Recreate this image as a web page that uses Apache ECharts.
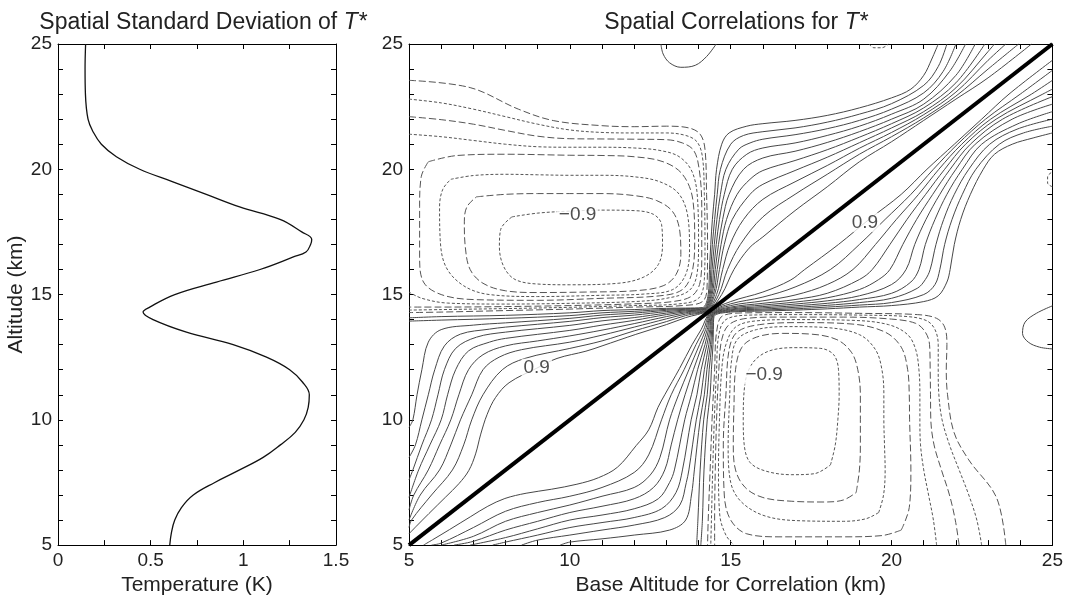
<!DOCTYPE html>
<html>
<head>
<meta charset="utf-8">
<script src="https://cdn.jsdelivr.net/npm/echarts@6/dist/echarts.min.js"></script>
<style>
  html, body { margin: 0; padding: 0; background: #fff; }
  #chart { width: 1066px; height: 601px; }
</style>
</head>
<body>
<div id="chart"></div>
<script>
// left panel: spatial standard deviation profile
const altKm = [5, 5.5, 6, 6.5, 7, 7.5, 8, 8.5, 9, 9.5, 10, 10.5, 11, 11.5, 12, 12.5, 13, 13.5, 14, 14.3, 14.5, 15, 15.5, 16, 16.5, 16.7, 17, 17.2, 17.5, 18, 18.5, 19, 19.5, 20, 20.5, 21, 21.5, 22, 23, 24, 25];
const tempK = [0.603, 0.612, 0.63, 0.666, 0.73, 0.846, 0.98, 1.107, 1.2, 1.28, 1.327, 1.35, 1.356, 1.32, 1.25, 1.125, 0.945, 0.693, 0.513, 0.459, 0.495, 0.63, 0.855, 1.09, 1.27, 1.338, 1.363, 1.369, 1.315, 1.198, 0.98, 0.80, 0.62, 0.441, 0.315, 0.234, 0.189, 0.162, 0.148, 0.146, 0.149];

// right panel: correlation matrix is symmetric, contours read above the diagonal
// positive contours (0.0 .. 0.9), from the left edge through the neck to the top edge
const solidAbove = [
  [[5,14.07],[6,14.12],[8,14.17],[10,14.27],[11,14.36],[12,14.4],[13,14.45],[13.6,14.46],[14.12,14.48],[14.3,15],[14.34,16],[14.38,17],[14.43,18],[14.5,19],[14.56,20],[14.72,21],[14.95,21.45],[15.5,21.72],[16,21.82],[17,21.95],[18,22.15],[19,22.45],[20,22.85],[20.6,23.2],[21,23.75],[21.25,24.4],[21.45,25]],
  [[5,13.94],[6,13.98],[8,14.05],[10,14.16],[11,14.27],[12,14.33],[13,14.41],[13.6,14.44],[14.15,14.46],[14.33,15],[14.38,16],[14.43,17],[14.5,18],[14.58,19],[14.68,20],[15,21],[15.4,21.35],[16,21.5],[17,21.65],[18,21.88],[19,22.2],[20,22.62],[21,23.35],[21.45,24.1],[21.72,25]],
  [[5,9.7],[5.12,10],[5.25,11],[5.4,12],[5.6,13.1],[6,13.6],[7,13.78],[8,13.87],[10,14.05],[11,14.18],[12,14.26],[13,14.37],[13.6,14.41],[14.17,14.44],[14.36,15],[14.42,16],[14.49,17],[14.57,18],[14.68,19],[14.85,20],[15.25,20.8],[15.6,21.05],[16,21.2],[17,21.38],[18,21.62],[19,21.95],[20,22.4],[21,23.05],[21.6,23.9],[22,25]],
  [[5,8.5],[5.2,9],[5.4,10],[5.6,11],[5.8,12],[6.1,12.95],[6.6,13.42],[7.5,13.62],[8,13.7],[10,13.93],[11,14.08],[12,14.18],[13,14.32],[13.6,14.38],[14.19,14.43],[14.39,15],[14.47,16],[14.55,17],[14.65,18],[14.8,19],[15.05,20],[15.5,20.6],[16,20.85],[17,21.05],[18,21.35],[19,21.72],[20,22.2],[21,22.8],[21.8,23.9],[22.3,25]],
  [[5,7.6],[5.12,8],[5.4,9],[5.7,10],[5.9,11],[6.1,12],[6.45,12.85],[7.1,13.3],[8,13.5],[10,13.77],[11,13.95],[12,14.08],[13,14.26],[13.6,14.35],[14.21,14.42],[14.42,15],[14.52,16],[14.62,17],[14.75,18],[14.95,19],[15.4,20],[16,20.45],[17,20.72],[18,21.07],[19,21.5],[20,22],[21,22.6],[22,23.75],[22.6,25]],
  [[5,6.9],[5.3,8],[5.65,9],[6,10],[6.2,11],[6.45,12],[6.85,12.75],[7.5,13.1],[8,13.25],[10,13.57],[11,13.78],[12,13.97],[13,14.2],[13.6,14.31],[14.23,14.41],[14.46,15],[14.58,16],[14.7,17],[14.87,18],[15.2,19],[15.6,19.6],[16,19.95],[17,20.35],[18,20.78],[19,21.28],[20,21.82],[21,22.45],[22,23.45],[22.9,25]],
  [[5,6.4],[5.15,7],[5.6,8],[5.95,9],[6.3,10],[6.55,11],[6.85,12],[7.3,12.6],[8,12.95],[9,13.15],[10,13.35],[11,13.58],[12,13.84],[13,14.12],[13.6,14.27],[14.25,14.4],[14.5,15],[14.65,16],[14.8,17],[15.05,18],[15.6,19],[16,19.4],[17,19.95],[18,20.48],[19,21.06],[20,21.65],[21,22.3],[22,23.25],[23,24.7],[23.2,25]],
  [[5,6],[5.35,7],[5.95,8],[6.3,9],[6.6,10],[6.95,11],[7.3,12],[7.8,12.5],[8.5,12.8],[10,13.1],[11,13.38],[12,13.7],[13,14.03],[13.6,14.22],[14.27,14.39],[14.56,15],[14.75,16],[14.98,17],[15.4,18],[16,18.8],[17,19.5],[18,20.15],[19,20.84],[20,21.47],[21,22.18],[22,23.08],[23,24.35],[23.55,25]],
  [[5,5.7],[5.08,6],[5.7,7],[6.35,8],[6.7,9],[6.95,10],[7.3,11],[7.9,12],[8.6,12.45],[10,12.85],[11,13.15],[12,13.55],[13,13.92],[13.6,14.16],[14.29,14.38],[14.63,15],[14.9,16],[15.3,17],[16,18.1],[17,19],[18,19.8],[19,20.6],[20,21.3],[21,22.05],[22,22.92],[23,24],[23.95,25]],
  [[5,5.45],[5.21,5.73],[5.62,6.26],[6.14,6.92],[6.55,7.45],[6.86,7.98],[7.07,8.64],[7.23,9.43],[7.43,10.22],[7.69,10.89],[8.11,11.48],[8.97,12.06],[9.6,12.45],[10.5,12.74],[11,12.95],[12.05,13.41],[13,13.8],[13.6,14.08],[14.31,14.37],[14.72,15],[15.1,16],[15.57,16.85],[16,17.3],[17,18.35],[18,19.3],[19,20.3],[20,21.1],[21,21.95],[22,22.8],[23,23.65],[24.35,25]]
];

// negative contours (upper-left box), outer to inner (-0.9 last)
const dashedAbove = [
  [[5,23.55],[6.9,23.26],[8.4,22.4],[9.5,21.94],[11,21.74],[12,21.7],[13,21.72],[13.7,21.65],[14.05,21.4],[14.2,20.8],[14.25,19],[14.28,17],[14.27,15.5],[14.15,14.75],[13.5,14.56],[12,14.5],[10,14.42],[8,14.36],[6,14.3],[5,14.28]],
  [[5,22.8],[6,22.65],[7,22.4],[8,22.1],[9,21.8],[10,21.57],[11,21.47],[12,21.45],[13,21.45],[13.6,21.35],[13.95,21.1],[14.12,20.5],[14.18,19],[14.2,17],[14.18,15.6],[14,14.85],[13.4,14.63],[12,14.56],[10,14.49],[8,14.44],[6,14.4],[5,14.38]],
  [[5,22.1],[6,21.98],[7,21.8],[8,21.55],[9,21.32],[10,21.22],[11,21.21],[12,21.2],[13,21.18],[13.5,21.05],[13.85,20.75],[14.02,20],[14.1,18.5],[14.1,16.5],[14.05,15.5],[13.8,14.95],[13.2,14.72],[12,14.63],[10,14.56],[8,14.52],[6,14.5],[5,14.5]],
  [[5,21.4],[6,21.3],[7,21.15],[8,21],[9,20.9],[10,20.88],[11,20.88],[12,20.85],[12.8,20.75],[13.4,20.5],[13.8,19.9],[13.97,18.8],[14,17],[13.95,15.8],[13.7,15.15],[13,14.85],[12,14.72],[10,14.65],[8,14.62],[6.2,14.66],[5.4,14.85],[5,15.1]],
  [[5.6,20.3],[6.5,20.55],[8,20.6],[10,20.56],[11,20.55],[12,20.5],[12.9,20.3],[13.5,19.8],[13.82,18.8],[13.88,17.2],[13.8,15.9],[13.5,15.2],[12.8,14.95],[11,14.85],[9,14.77],[7,14.8],[6,15],[5.45,15.5],[5.33,16.5],[5.33,18.5],[5.38,19.7],[5.6,20.3]],
  [[6.3,19.6],[7,19.75],[8,19.8],[9,19.78],[10,19.76],[11,19.76],[12,19.7],[12.8,19.5],[13.4,19],[13.68,18],[13.72,16.8],[13.6,15.8],[13.2,15.2],[12.3,15.02],[11,14.97],[9,14.92],[7.5,15],[6.7,15.35],[6.15,16.1],[5.97,17.2],[5.95,18.5],[6.05,19.2],[6.3,19.6]],
  [[7.1,18.9],[8,19],[9,19.03],[10,19.03],[11,19.03],[12,18.95],[12.7,18.75],[13.2,18.3],[13.42,17.5],[13.45,16.6],[13.3,15.8],[12.9,15.35],[12,15.15],[10.5,15.1],[9,15.08],[8,15.15],[7.3,15.45],[6.9,16],[6.75,16.9],[6.72,17.9],[6.8,18.5],[7.1,18.9]],
  [[8.2,18.1],[9,18.25],[10,18.33],[11,18.37],[12,18.35],[12.6,18.2],[12.85,17.8],[12.88,17],[12.75,16.2],[12.3,15.7],[11.5,15.45],[10,15.39],[9,15.42],[8.3,15.6],[7.95,16.1],[7.81,16.9],[7.85,17.6],[8.2,18.1]]
];

// small features near the edges
const solidLoopAbove = [[12.83,25],[12.9,24.6],[13.1,24.25],[13.45,24.07],[13.9,24.15],[14.25,24.5],[14.55,25]];
const dashedArcAbove = [[19.3,25],[19.45,24.85],[19.7,24.85],[19.9,25]];

const diagonal = [[5, 5], [25, 25]];

const contourLabels = [
  { x: 8.97, y: 12.06, text: '0.9' },
  { x: 19.17, y: 17.88, text: '0.9' },
  { x: 10.24, y: 18.17, text: '\u22120.9' },
  { x: 16.04, y: 11.79, text: '\u22120.9' }
];

const FONT = 'Liberation Sans, Arial, Helvetica, sans-serif';
const mirror = pts => pts.map(p => [p[1], p[0]]);

const chart = echarts.init(document.getElementById('chart'));

function axisBase(gridIndex, position, min, max, interval, labels, fmt) {
  return {
    type: 'value', gridIndex: gridIndex, position: position,
    min: min, max: max, interval: interval,
    axisLine: { show: true, onZero: false, lineStyle: { color: '#000', width: 1 } },
    axisTick: { show: true, inside: true, length: 5, lineStyle: { color: '#000' } },
    axisLabel: { show: labels, formatter: fmt, color: '#222', fontSize: 19, fontFamily: FONT, margin: 6 },
    splitLine: { show: false }
  };
}
const every5 = v => (v % 5 === 0 ? String(v) : '');
const everyHalf = v => ((v * 2) % 1 === 0 ? String(v) : '');

const series = [];
series.push({
  type: 'line', xAxisIndex: 0, yAxisIndex: 0,
  data: tempK.map((t, i) => [t, altKm[i]]),
  smooth: 0.4, symbol: 'none',
  lineStyle: { color: '#111', width: 1.3 }
});

function addContour(pts, dashed, dashIdx) {
  series.push({
    type: 'line', xAxisIndex: 2, yAxisIndex: 2,
    data: pts, smooth: 0.35, symbol: 'none', silent: true,
    lineStyle: {
      color: dashed ? '#555' : '#474747', width: 1,
      type: dashed ? (dashIdx % 2 === 0 ? [7, 3] : [3, 2]) : 'solid'
    }
  });
}
solidAbove.forEach(pts => { addContour(pts, false); addContour(mirror(pts), false); });
dashedAbove.forEach((pts, k) => { addContour(pts, true, k); addContour(mirror(pts), true, k); });
addContour(solidLoopAbove, false); addContour(mirror(solidLoopAbove), false);
addContour(dashedArcAbove, true, 1); addContour(mirror(dashedArcAbove), true, 1);

series.push({
  type: 'line', xAxisIndex: 2, yAxisIndex: 2, data: diagonal,
  symbol: 'none', lineStyle: { color: '#000', width: 4 }, z: 5
});
series.push({
  type: 'scatter', xAxisIndex: 2, yAxisIndex: 2, symbolSize: 0, z: 6,
  data: contourLabels.map(l => ({ value: [l.x, l.y], name: l.text })),
  label: {
    show: true, position: 'inside', formatter: p => p.name,
    fontSize: 19, fontFamily: FONT, color: '#222',
    backgroundColor: '#fff', padding: [0, 2]
  }
});

const titleStyle = {
  fontSize: 23, fontWeight: 'normal', color: '#222', fontFamily: FONT,
  rich: { i: { fontSize: 23, fontStyle: 'italic', color: '#222', fontFamily: FONT } }
};

const option = {
  backgroundColor: '#fff',
  animation: false,
  textStyle: { fontFamily: FONT },
  title: [
    { text: 'Spatial Standard Deviation of {i|T*}', left: 198, top: 6, textAlign: 'center', textStyle: titleStyle },
    { text: 'Spatial Correlations for {i|T*}', left: 731, top: 6, textAlign: 'center', textStyle: titleStyle }
  ],
  grid: [
    { left: 58, width: 278, top: 44, height: 506 },
    { left: 409, width: 644, top: 44, height: 506 }
  ],
  xAxis: [
    Object.assign(axisBase(0, 'bottom', 0, 1.5, 0.25, true, everyHalf), {
      name: 'Temperature (K)', nameLocation: 'middle', nameGap: 24,
      nameTextStyle: { fontSize: 21, color: '#222', fontFamily: FONT, verticalAlign: 'top' }
    }),
    axisBase(0, 'top', 0, 1.5, 0.25, false),
    Object.assign(axisBase(1, 'bottom', 5, 25, 1, true, every5), {
      name: 'Base Altitude for Correlation (km)', nameLocation: 'middle', nameGap: 24,
      nameTextStyle: { fontSize: 21, color: '#222', fontFamily: FONT, verticalAlign: 'top' }
    }),
    axisBase(1, 'top', 5, 25, 1, false)
  ],
  yAxis: [
    Object.assign(axisBase(0, 'left', 5, 25, 1, true, every5), {
      name: 'Altitude (km)', nameLocation: 'middle', nameGap: 25, nameRotate: 90,
      nameTextStyle: { fontSize: 21, color: '#222', fontFamily: FONT }
    }),
    axisBase(0, 'right', 5, 25, 1, false),
    axisBase(1, 'left', 5, 25, 1, true, every5),
    axisBase(1, 'right', 5, 25, 1, false)
  ],
  series: series
};
chart.setOption(option);
</script>
</body>
</html>
